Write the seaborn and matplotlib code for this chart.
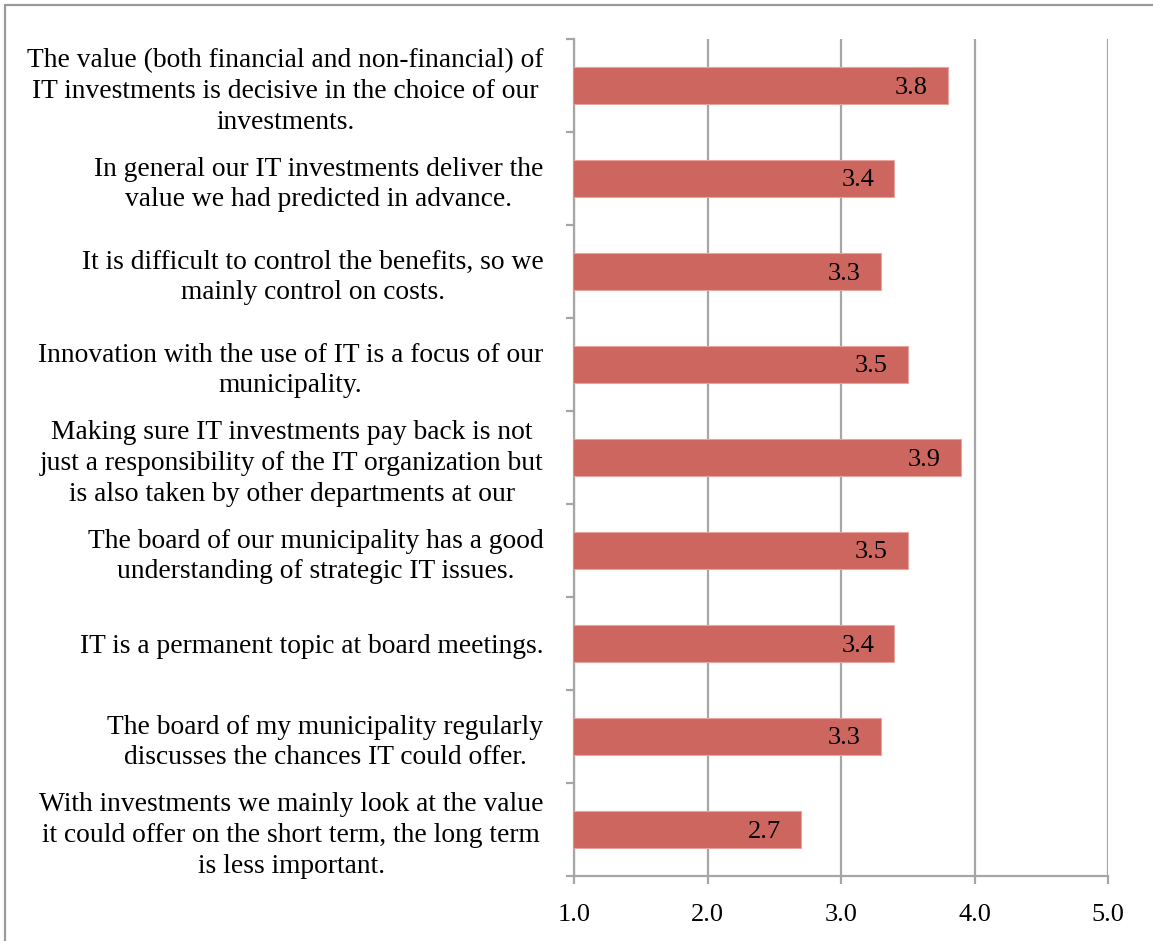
import matplotlib
matplotlib.use("Agg")
import matplotlib.pyplot as plt
from matplotlib.lines import Line2D
import seaborn as sns
import numpy as np

statements = [
    "The value (both financial and non-financial) of\nIT investments is decisive in the choice of our\ninvestments.",
    "In general our IT investments deliver the\nvalue we had predicted in advance.",
    "It is difficult to control the benefits, so we\nmainly control on costs.",
    "Innovation with the use of IT is a focus of our\nmunicipality.",
    "Making sure IT investments pay back is not\njust a responsibility of the IT organization but\nis also taken by other departments at our",
    "The board of our municipality has a good\nunderstanding of strategic IT issues.",
    "IT is a permanent topic at board meetings.",
    "The board of my municipality regularly\ndiscusses the chances IT could offer.",
    "With investments we mainly look at the value\nit could offer on the short term, the long term\nis less important.",
]
scores = [3.8, 3.4, 3.3, 3.5, 3.9, 3.5, 3.4, 3.3, 2.7]
x_ticks = [1.0, 2.0, 3.0, 4.0, 5.0]
x_tick_labels = ["1.0", "2.0", "3.0", "4.0", "5.0"]

sns.set_theme(style="white")
plt.rcParams["font.family"] = ["Liberation Serif", "DejaVu Serif"]

BAR = "#CD665F"
GRID = "#A6A6A6"
FS = 19.8
VFS = 19

fig = plt.figure(figsize=(11.53, 9.41), dpi=100)
ax = fig.add_axes([574 / 1153, 1 - 876 / 941, (1108 - 574) / 1153, (876 - 39) / 941])

sns.barplot(x=scores, y=statements, orient="h", color=BAR, width=0.4,
            saturation=1, edgecolor="#E6A49F", linewidth=0.8, ax=ax, zorder=3)

ax.set_xlim(1.0, 5.0)
ax.set_ylim(len(statements) - 0.5, -0.5)
ax.set_xticks(x_ticks)
ax.set_xticklabels(x_tick_labels, fontsize=VFS)
ax.set_xlabel("")
ax.set_ylabel("")

# vertical gridlines
ax.grid(axis="x", color=GRID, linewidth=1.6, zorder=0)
ax.set_axisbelow(True)

for side in ["top", "right"]:
    ax.spines[side].set_visible(False)
for side in ["left", "bottom"]:
    ax.spines[side].set_color(GRID)
    ax.spines[side].set_linewidth(1.6)

# y labels centred per line, ticks at category boundaries
ax.tick_params(axis="y", length=0, pad=22, labelsize=FS, labelcolor="black")
for t in ax.get_yticklabels():
    t.set_multialignment("center")
    t.set_linespacing(1.3)
ax.set_yticks(np.arange(-0.5, len(statements), 1.0), minor=True)
ax.tick_params(axis="y", which="minor", length=6, width=1.6, color=GRID, left=True)
ax.tick_params(axis="x", length=6, width=1.6, color=GRID, bottom=True,
               labelcolor="black", pad=14)

# value labels inside the bar ends
for i, v in enumerate(scores):
    ax.annotate(f"{v:.1f}", xy=(v, i), xytext=(-20, -2), textcoords="offset pixels",
                ha="right", va="center", fontsize=VFS, color="black", zorder=4)

# outer frame lines
fig.add_artist(Line2D([5 / 1153, 1], [1 - 5 / 941, 1 - 5 / 941],
                      transform=fig.transFigure, color="#9A9A9A", linewidth=1.6))
fig.add_artist(Line2D([5 / 1153, 5 / 1153], [0, 1 - 5 / 941],
                      transform=fig.transFigure, color="#9A9A9A", linewidth=1.6))

fig.savefig("out.png", dpi=100)
